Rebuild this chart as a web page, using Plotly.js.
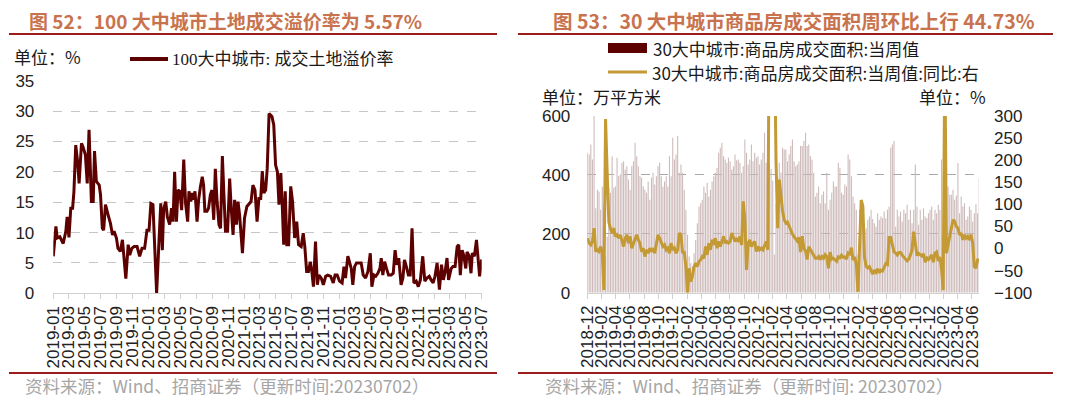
<!DOCTYPE html>
<html><head><meta charset="utf-8">
<script src="https://cdn.plot.ly/plotly-3.0.1.min.js"></script>
<style>html,body{margin:0;padding:0;background:#fff;}#chart{width:1080px;height:399px;}</style>
</head><body><div id="chart"></div>
<script>
// ---------- Left chart: 100 大中城市 成交土地溢价率 (%) ----------
const landDates = ['2019-01-01','2019-01-11','2019-01-16','2019-01-26','2019-02-08','2019-02-18','2019-02-23','2019-03-02','2019-03-09','2019-03-16','2019-03-21','2019-03-28','2019-04-04','2019-04-10','2019-04-19','2019-04-25','2019-05-04','2019-05-11','2019-05-18','2019-05-23','2019-05-27','2019-06-03','2019-06-08','2019-06-15','2019-06-26','2019-07-01','2019-07-08','2019-07-13','2019-07-20','2019-07-30','2019-08-08','2019-08-16','2019-08-22','2019-08-31','2019-09-06','2019-09-15','2019-09-23','2019-10-06','2019-10-15','2019-10-21','2019-10-29','2019-11-07','2019-11-18','2019-11-28','2019-12-07','2019-12-17','2019-12-26','2020-01-03','2020-01-10','2020-01-18','2020-01-26','2020-02-01','2020-02-10','2020-02-17','2020-02-23','2020-02-28','2020-03-07','2020-03-13','2020-03-22','2020-03-29','2020-04-04','2020-04-10','2020-04-17','2020-04-23','2020-04-30','2020-05-07','2020-05-15','2020-05-22','2020-05-30','2020-06-04','2020-06-11','2020-06-17','2020-06-22','2020-06-27','2020-07-05','2020-07-11','2020-07-18','2020-07-25','2020-07-30','2020-08-04','2020-08-12','2020-08-18','2020-08-25','2020-08-31','2020-09-07','2020-09-13','2020-09-19','2020-09-27','2020-10-03','2020-10-10','2020-10-16','2020-10-22','2020-10-30','2020-11-07','2020-11-13','2020-11-20','2020-11-26','2020-12-03','2020-12-09','2020-12-15','2020-12-26','2021-01-03','2021-01-12','2021-01-20','2021-01-28','2021-02-04','2021-02-12','2021-02-20','2021-02-27','2021-03-06','2021-03-12','2021-03-18','2021-03-25','2021-03-31','2021-04-07','2021-04-18','2021-04-25','2021-05-02','2021-05-09','2021-05-15','2021-05-22','2021-05-28','2021-06-02','2021-06-08','2021-06-14','2021-06-21','2021-06-29','2021-07-06','2021-07-14','2021-07-22','2021-07-29','2021-08-08','2021-08-16','2021-08-22','2021-08-29','2021-09-05','2021-09-12','2021-09-18','2021-09-24','2021-10-02','2021-10-09','2021-10-15','2021-10-24','2021-11-01','2021-11-10','2021-11-18','2021-11-29','2021-12-09','2021-12-16','2021-12-24','2022-01-02','2022-01-12','2022-01-19','2022-01-25','2022-02-03','2022-02-09','2022-02-16','2022-02-22','2022-03-01','2022-03-08','2022-03-17','2022-03-26','2022-04-03','2022-04-12','2022-04-21','2022-04-30','2022-05-06','2022-05-14','2022-05-21','2022-05-29','2022-06-06','2022-06-11','2022-06-17','2022-06-24','2022-07-01','2022-07-09','2022-07-19','2022-07-27','2022-08-03','2022-08-10','2022-08-17','2022-08-26','2022-09-02','2022-09-08','2022-09-17','2022-09-23','2022-09-30','2022-10-07','2022-10-14','2022-10-23','2022-10-31','2022-11-08','2022-11-17','2022-11-25','2022-12-03','2022-12-12','2022-12-19','2022-12-27','2023-01-03','2023-01-11','2023-01-20','2023-01-28','2023-02-04','2023-02-11','2023-02-18','2023-02-24','2023-03-06','2023-03-13','2023-03-21','2023-03-29','2023-04-04','2023-04-10','2023-04-17','2023-04-23','2023-05-01','2023-05-06','2023-05-14','2023-05-21','2023-05-26','2023-06-03','2023-06-11','2023-06-17','2023-06-23','2023-07-01'];
const landPremium = [6.1,11.0,9.1,9.3,8.2,10.2,12.6,9.2,14.0,14.0,16.7,24.4,21.7,18.1,24.7,24.1,22.8,18.1,26.9,21.1,15.1,15.1,23.4,18.4,17.8,16.2,10.7,10.4,14.6,12.9,11.5,9.6,10.2,9.1,7.4,6.9,8.8,2.4,8.0,6.3,7.4,7.7,7.7,6.1,7.4,7.4,10.4,10.4,14.8,14.6,6.3,0.0,8.5,14.8,7.1,13.9,15.1,12.6,11.3,14.0,11.8,20.0,11.8,17.0,16.8,13.7,22.0,14.8,11.8,16.8,15.1,16.5,15.4,16.8,11.8,15.4,17.6,19.2,17.8,13.5,13.5,14.0,16.2,17.0,12.1,20.5,15.6,11.3,10.7,22.6,16.2,10.2,10.2,18.9,14.0,9.6,15.4,11.3,15.1,12.9,6.6,12.4,14.3,14.8,15.1,17.8,17.0,11.8,15.6,15.6,20.1,16.5,17.0,20.6,29.6,29.1,27.7,21.1,20.0,14.6,19.8,14.0,8.0,16.8,8.0,8.0,17.6,15.1,9.1,11.8,8.0,7.7,9.9,7.7,3.6,3.6,5.2,3.6,1.1,8.5,1.4,3.0,2.5,1.4,2.8,3.0,2.8,1.7,3.0,3.0,2.0,1.7,4.4,2.5,6.1,5.2,4.1,1.4,4.4,5.0,5.0,5.0,3.0,2.5,3.6,6.6,1.1,3.0,2.8,3.3,4.1,5.8,3.0,5.2,4.1,3.0,3.0,3.3,7.1,4.7,5.8,1.4,2.5,5.5,4.1,3.0,3.0,10.7,1.7,2.0,1.1,2.2,6.1,2.0,2.5,2.8,2.2,1.7,2.8,5.0,0.6,4.7,2.2,3.6,5.8,2.2,4.1,4.4,4.4,7.7,8.0,3.0,7.1,6.3,4.1,6.8,6.1,3.3,6.6,6.1,8.8,6.1,2.8,5.57];

// ---------- Right chart: 30 大中城市 商品房成交面积 (weekly) ----------
const weekDates = ['2018-12-02','2018-12-09','2018-12-16','2018-12-23','2018-12-30',
'2019-01-06','2019-01-13','2019-01-20','2019-01-27','2019-02-03','2019-02-10','2019-02-17','2019-02-24','2019-03-03','2019-03-10','2019-03-17','2019-03-24','2019-03-31','2019-04-07','2019-04-14','2019-04-21','2019-04-28','2019-05-05','2019-05-12','2019-05-19','2019-05-26','2019-06-02','2019-06-09','2019-06-16','2019-06-23','2019-06-30','2019-07-07','2019-07-14','2019-07-21','2019-07-28','2019-08-04','2019-08-11','2019-08-18','2019-08-25','2019-09-01','2019-09-08','2019-09-15','2019-09-22','2019-09-29','2019-10-06','2019-10-13','2019-10-20','2019-10-27','2019-11-03','2019-11-10','2019-11-17','2019-11-24','2019-12-01','2019-12-08','2019-12-15','2019-12-22','2019-12-29',
'2020-01-05','2020-01-12','2020-01-19','2020-01-26','2020-02-02','2020-02-09','2020-02-16','2020-02-23','2020-03-01','2020-03-08','2020-03-15','2020-03-22','2020-03-29','2020-04-05','2020-04-12','2020-04-19','2020-04-26','2020-05-03','2020-05-10','2020-05-17','2020-05-24','2020-05-31','2020-06-07','2020-06-14','2020-06-21','2020-06-28','2020-07-05','2020-07-12','2020-07-19','2020-07-26','2020-08-02','2020-08-09','2020-08-16','2020-08-23','2020-08-30','2020-09-06','2020-09-13','2020-09-20','2020-09-27','2020-10-04','2020-10-11','2020-10-18','2020-10-25','2020-11-01','2020-11-08','2020-11-15','2020-11-22','2020-11-29','2020-12-06','2020-12-13','2020-12-20','2020-12-27',
'2021-01-03','2021-01-10','2021-01-17','2021-01-24','2021-01-31','2021-02-07','2021-02-14','2021-02-21','2021-02-28','2021-03-07','2021-03-14','2021-03-21','2021-03-28','2021-04-04','2021-04-11','2021-04-18','2021-04-25','2021-05-02','2021-05-09','2021-05-16','2021-05-23','2021-05-30','2021-06-06','2021-06-13','2021-06-20','2021-06-27','2021-07-04','2021-07-11','2021-07-18','2021-07-25','2021-08-01','2021-08-08','2021-08-15','2021-08-22','2021-08-29','2021-09-05','2021-09-12','2021-09-19','2021-09-26','2021-10-03','2021-10-10','2021-10-17','2021-10-24','2021-10-31','2021-11-07','2021-11-14','2021-11-21','2021-11-28','2021-12-05','2021-12-12','2021-12-19','2021-12-26',
'2022-01-02','2022-01-09','2022-01-16','2022-01-23','2022-01-30','2022-02-06','2022-02-13','2022-02-20','2022-02-27','2022-03-06','2022-03-13','2022-03-20','2022-03-27','2022-04-03','2022-04-10','2022-04-17','2022-04-24','2022-05-01','2022-05-08','2022-05-15','2022-05-22','2022-05-29','2022-06-05','2022-06-12','2022-06-19','2022-06-26','2022-07-03','2022-07-10','2022-07-17','2022-07-24','2022-07-31','2022-08-07','2022-08-14','2022-08-21','2022-08-28','2022-09-04','2022-09-11','2022-09-18','2022-09-25','2022-10-02','2022-10-09','2022-10-16','2022-10-23','2022-10-30','2022-11-06','2022-11-13','2022-11-20','2022-11-27','2022-12-04','2022-12-11','2022-12-18','2022-12-25',
'2023-01-01','2023-01-08','2023-01-15','2023-01-22','2023-01-29','2023-02-05','2023-02-12','2023-02-19','2023-02-26','2023-03-05','2023-03-12','2023-03-19','2023-03-26','2023-04-02','2023-04-09','2023-04-16','2023-04-23','2023-04-30','2023-05-07','2023-05-14','2023-05-21','2023-05-28','2023-06-04','2023-06-11','2023-06-18','2023-06-25','2023-07-02'];
const areaWeekly = [475,469,503,452,600, 287,350,344,282,361, 293,123,191,356,339, 463,356,361,458,395, 401,441,446,418,429, 384,350,429,446,509, 463,429,395,390,361, 350,339,378,316,390, 407,367,395,429,441, 395,361,378,395,361, 463,395,526,452,469, 532,407,435,407,350, 282,197,123,100,89, 134,179,236,293,304, 316,361,339,373,327, 350,378,395,407,424, 475,492,509,463,452, 441,458,446,418,429, 469,450,452,441,407, 429,520,475,435,452, 503,446,475,458,463, 435,452,475,543,441, 452,441,420,380,130, 300,394,441,407,492, 486,486,446,470,498, 520,446,429,435,446, 498,498,515,543,498, 503,463,452,407,327, 339,361,304,333,344, 304,407,282,316,339, 378,361,361,441,424, 339,333,367,361,469, 452,395,327,304,282, 130,282,248,304,236, 219,248,259,282,250, 236,225,270,248,259, 253,276,253,282,293, 492,503,515,225,282, 259,276,242,282,270, 299,248,282,236,282, 435,293,231,282,248, 287,259,253,270,282, 293,248,282,270,299, 282,452,60,150,250, 361,333,333,350,316, 330,440,270,327,293, 304,248,259,293,282, 242,270,300,270,390];
const areaYoY = [23.5,12.1,8.3,15.9,46.2, -6.8,-3,-6.8,4.5,-10.6, -94,293,170,60,45, 34.9,46.2,27.3,31,23.5, 31,19.7,4.5,23.5,31, 12.1,27.3,0.8,12.1,23.5, 31,19.7,12.1,-6.8,0.8, -18.2,-3,-10.6,0.8,-6.8, 0.8,-10.6,15.9,31,23.5, 12.1,4.5,8.3,-3,0.8, -10.6,12.1,-3,0.8,-10.6, -3,34.9,31,-10.6,-6.8, -40.9,-100,-44.7,-75,-63.6, -40.9,-33.3,-40.9,-29.5,-25.8, -18.2,-22,4.5,-14.4,12.1, -3,19.7,8.3,23.5,0.8, 15.9,4.5,15.9,27.3,12.1, 15.9,12.1,15.9,34.9,23.5, 15.9,23.5,15.9,27.3,8.3, 106.8,65.2,-48.5,12.1,19.7, 4.5,12.1,15.9,-6.8,4.5, -3,0.8,-3,8.3,15.9, -3,600,700,650,500, 200,46,156,110,85, 65,58,60,50,44, 33,27,22,17,25, -8,28,0,-5,-25, 4,-3,-11,-18,-22, -22,-18,-25,-18,-22, -14,-18,-45,-8,-24, -22,-25,-29,-19,-21, -15,-20,-19,-24,-10, -12,2,-26,-19,-35, -98,0,110,95,-20, -40,-44,-41,-48,-58, -49,-54,-46,-55,-49, -51,-43,-34,-36,25, 25,5,-8,-10,-15, -9,-9,-15,-21,-24, -28,-24,-15,-2,38, 12,-16,-11,-14,-17, -12,-31,-19,-25,-21, -14,-31,-11,-8,-28, -19,-46,-94,450,-10.6, 12.1,27.3,46.2,65.2,61.4, 50,46.2,31,34.9,19.7, 31,23.5,27.3,19.7,31, 12.1,-40.9,-44.7,-25.8,-25.8];

// ---------- Texts ----------
const leftTitle = '图 52：100 大中城市土地成交溢价率为 5.57%';
const rightTitle = '图 53：30 大中城市商品房成交面积周环比上行 44.73%';
const leftSeriesName = '100大中城市: 成交土地溢价率';
const barSeriesName = '30大中城市:商品房成交面积:当周值';
const lineSeriesName = '30大中城市:商品房成交面积:当周值:同比:右';
const leftUnit = '单位：%';
const rightUnitL = '单位：万平方米';
const rightUnitR = '单位：%';
const leftSource = '资料来源：Wind、招商证券（更新时间:20230702）';
const rightSource = '资料来源：Wind、招商证券（更新时间: 20230702）';

// ---------- Layout helpers (pixel -> paper) ----------
const W = 1080, H = 399;
const fx = x => x / W, fy = y => 1 - y / H;
const NUM = 'Liberation Sans, Arial, sans-serif';
const CJK = '"Noto Sans CJK SC", "Liberation Sans", sans-serif';
const SERIF = '"Liberation Serif", "Noto Sans CJK SC", serif';
const dark = '#5c0000', gold = '#c49a35', ruleRed = '#9a1c1c', titleCol = '#c8734d';

const traces = [
  {x: landDates, y: landPremium, type: 'scatter', mode: 'lines', name: leftSeriesName,
   line: {color: dark, width: 3}, xaxis: 'x', yaxis: 'y', hoverinfo: 'skip'},
  {x: weekDates, y: areaWeekly, type: 'bar', name: barSeriesName,
   marker: {color: '#cdb9b9', line: {width: 0}}, xaxis: 'x2', yaxis: 'y2', hoverinfo: 'skip'},
  {x: weekDates, y: areaYoY, type: 'scatter', mode: 'lines', name: lineSeriesName,
   line: {color: gold, width: 3}, xaxis: 'x2', yaxis: 'y3', hoverinfo: 'skip'}
];

const tickFont = {family: NUM, size: 17, color: '#222'};
const xCommon = {type: 'date', dtick: 'M2', tickformat: '%Y-%m', tickangle: -90,
  ticks: 'outside', ticklen: 5, tickcolor: '#d0d0d0', showline: true, linecolor: '#d0d0d0',
  linewidth: 1, showgrid: false, zeroline: false, tickfont: tickFont, fixedrange: true};

// text centred on the reference text's centre (robust against width measuring)
function txt(text, cx, y, size, color, family) {
  return {text: text, x: fx(cx), y: fy(y), xref: 'paper', yref: 'paper', showarrow: false,
    xanchor: 'center', yanchor: 'middle', align: 'center', borderpad: 0,
    font: {family: family || CJK, size: size, color: color}};
}
function hline(x0, x1, y, color, width) {
  return {type: 'line', xref: 'paper', yref: 'paper', x0: fx(x0), x1: fx(x1), y0: fy(y), y1: fy(y),
    line: {color: color, width: width}};
}

const layout = {
  width: W, height: H, margin: {l: 0, r: 0, t: 0, b: 0},
  paper_bgcolor: '#fff', plot_bgcolor: '#fff', showlegend: false, bargap: 0.35,
  xaxis: Object.assign({}, xCommon, {domain: [fx(53.3), fx(481.7)], range: ['2019-01-01', '2023-07-01'],
    tick0: '2019-01-01', anchor: 'y'}),
  yaxis: {domain: [fy(293.3), fy(80.7)], range: [0, 35], dtick: 5, showgrid: true, gridcolor: '#c6c6c6',
    griddash: 'dash', gridwidth: 1, zeroline: false, showline: false, ticks: '', tickfont: tickFont,
    ticklabelstandoff: 18, anchor: 'x', fixedrange: true},
  xaxis2: Object.assign({}, xCommon, {domain: [fx(587.3), fx(979)], range: ['2018-12-01', '2023-07-01'],
    tick0: '2018-12-01', anchor: 'y2'}),
  yaxis2: {domain: [fy(292.7), fy(116)], range: [0, 600], dtick: 200, showgrid: true, gridcolor: '#a8a8a8',
    griddash: 'dash', zeroline: false, showline: false, ticks: '', tickfont: tickFont,
    ticklabelstandoff: 16, anchor: 'x2', fixedrange: true},
  yaxis3: {overlaying: 'y2', side: 'right', range: [-100, 300], dtick: 50, showgrid: false, zeroline: false,
    showline: false, ticks: '', tickfont: tickFont, ticklabelstandoff: 14, anchor: 'x2', fixedrange: true},
  shapes: [
    hline(9, 497, 34, ruleRed, 2), hline(518, 1053, 34, ruleRed, 2),
    hline(9, 497, 373, ruleRed, 2), hline(518, 1053, 373, ruleRed, 2),
    hline(130, 168, 59, dark, 4),
    {type: 'rect', xref: 'paper', yref: 'paper', x0: fx(608), x1: fx(647), y0: fy(53), y1: fy(43),
     fillcolor: dark, line: {width: 0}},
    hline(608, 647, 72, gold, 3)
  ],
  annotations: [
    txt('<b>' + leftTitle + '</b>', 225, 21, 19, titleCol),
    txt('<b>' + rightTitle + '</b>', 794, 21, 19.5, titleCol),
    txt(leftUnit, 47.5, 57, 17, '#1a1a1a'),
    txt(leftSeriesName, 282.5, 59, 17, '#1a1a1a', SERIF),
    txt(barSeriesName, 785.5, 48, 17, '#1a1a1a'),
    txt(lineSeriesName, 815.5, 72, 17, '#1a1a1a'),
    txt(rightUnitL, 601.5, 97, 17, '#1a1a1a'),
    txt(rightUnitR, 952.5, 97, 17, '#1a1a1a'),
    txt(leftSource, 227, 385, 17.5, '#a6a6a6'),
    txt(rightSource, 748.5, 385, 17.5, '#a6a6a6')
  ]
};

Plotly.newPlot('chart', traces, layout, {staticPlot: true, displayModeBar: false});
</script></body></html>
